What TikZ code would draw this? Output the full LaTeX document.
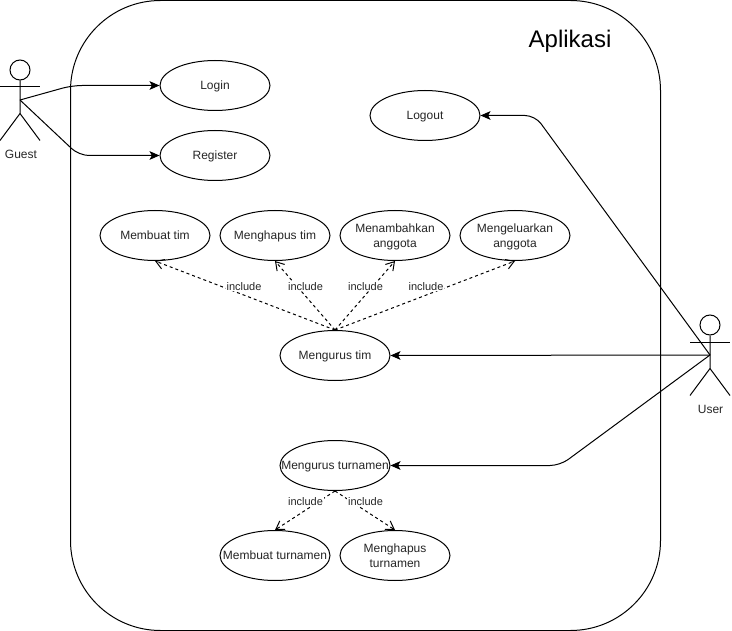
\documentclass[tikz,border=0pt]{standalone}
\usepackage{fontspec}
\setmainfont{Liberation Sans}
\usetikzlibrary{arrows.meta,shapes.geometric}
\newcommand{\ucline}[1]{\makebox[0pt][c]{\rule[-1.5pt]{0pt}{9.5pt}#1}}
\tikzset{
  x=0.75pt,y=-0.75pt,
  every node/.style={font=\fontsize{9}{11.25}\selectfont,text=black!85},
  usecase/.style={draw=black,line width=0.75pt,fill=white,ellipse,minimum width=82.5pt,minimum height=37.5pt,inner sep=0pt,align=center},
  pt/.style={inner sep=0pt,minimum size=0pt,outer sep=0pt},
  assoc/.style={draw=black,line width=0.75pt,rounded corners=7.5pt,-{Stealth[length=7.5pt,width=6.5pt,inset=1.8pt]}},
  incl/.style={draw=black,line width=0.75pt,dash pattern=on 2.25pt off 2.25pt,-{Straight Barb[length=6pt,width=7.5pt]}},
  incllabel/.style={fill=white,inner xsep=0.5pt,inner ysep=0.5pt,font=\fontsize{8.25}{10}\selectfont},
  actorline/.style={draw=black,line width=0.75pt},
}
\begin{document}
\begin{tikzpicture}
\useasboundingbox (0,0) rectangle (732,631);
% system boundary
\draw[line width=0.75pt,rounded corners=67.5pt] (70.5,0.5) rectangle (660.5,630.5);
\node[font=\fontsize{18}{20}\selectfont,text=black] (title) at (570,41) {Aplikasi};
% use cases
\node[usecase] (login) at (215,85.5) {\ucline{Login}};
\node[usecase] (register) at (215,155.5) {\ucline{Register}};
\node[usecase] (logout) at (425,115.5) {\ucline{Logout}};
\node[usecase] (mbtim) at (155,235.5) {\ucline{Membuat tim}};
\node[usecase] (mhtim) at (275,235.5) {\ucline{Menghapus tim}};
\node[usecase] (mtang) at (395,235.5) {\ucline{Menambahkan}\\\ucline{anggota}};
\node[usecase] (mkang) at (515,235.5) {\ucline{Mengeluarkan}\\\ucline{anggota}};
\node[usecase] (ustim) at (335,355.5) {\ucline{Mengurus tim}};
\node[usecase] (ustur) at (335,465.5) {\ucline{Mengurus turnamen}};
\node[usecase] (mbtur) at (275,555.5) {\ucline{Membuat turnamen}};
\node[usecase] (mhtur) at (395,555.5) {\ucline{Menghapus}\\\ucline{turnamen}};
% actors
\node[pt] (guest) at (20,100) {};
\node[pt] (user) at (710,355) {};
\node[draw=black,line width=0.75pt,circle,minimum size=15pt,inner sep=0pt] (ghead) at (20,70) {};
\node[draw=black,line width=0.75pt,circle,minimum size=15pt,inner sep=0pt] (uhead) at (710,325) {};
\draw[actorline] (ghead.south) -- (20,113.5) -- (0,140.5);
\draw[actorline] (20,113.5) -- (40,140.5);
\draw[actorline] (0,87) -- (40,87);
\draw[actorline] (uhead.south) -- (710,368.5) -- (690,395.5);
\draw[actorline] (710,368.5) -- (730,395.5);
\draw[actorline] (690,342) -- (730,342);
\node (gl) at (21,154) {Guest};
\node (ul) at (710.5,409) {User};
% associations
\draw[assoc] (guest.center) -- (72,85.5) -- (login.west);
\draw[assoc] (guest.center) -- (79,155.5) -- (register.west);
\draw[assoc] (user.center) -- (535,115.5) -- (logout.east);
\draw[assoc] (user.center) -- (ustim.east);
\draw[assoc] (user.center) -- (560,465.5) -- (ustur.east);
% includes
\draw[incl] (ustim.north) -- (mbtim.south);
\draw[incl] (ustim.north) -- (mhtim.south);
\draw[incl] (ustim.north) -- (mtang.south);
\draw[incl] (ustim.north) -- (mkang.south);
\draw[incl] (ustur.south) -- (mbtur.north);
\draw[incl] (ustur.south) -- (mhtur.north);
\node[incllabel] (i1) at (244,286.5) {include};
\node[incllabel] (i2) at (305.5,286.5) {include};
\node[incllabel] (i3) at (365.5,286.5) {include};
\node[incllabel] (i4) at (426,286.5) {include};
\node[incllabel] (i5) at (305.5,501.5) {include};
\node[incllabel] (i6) at (365.5,501.5) {include};
\end{tikzpicture}
\end{document}
